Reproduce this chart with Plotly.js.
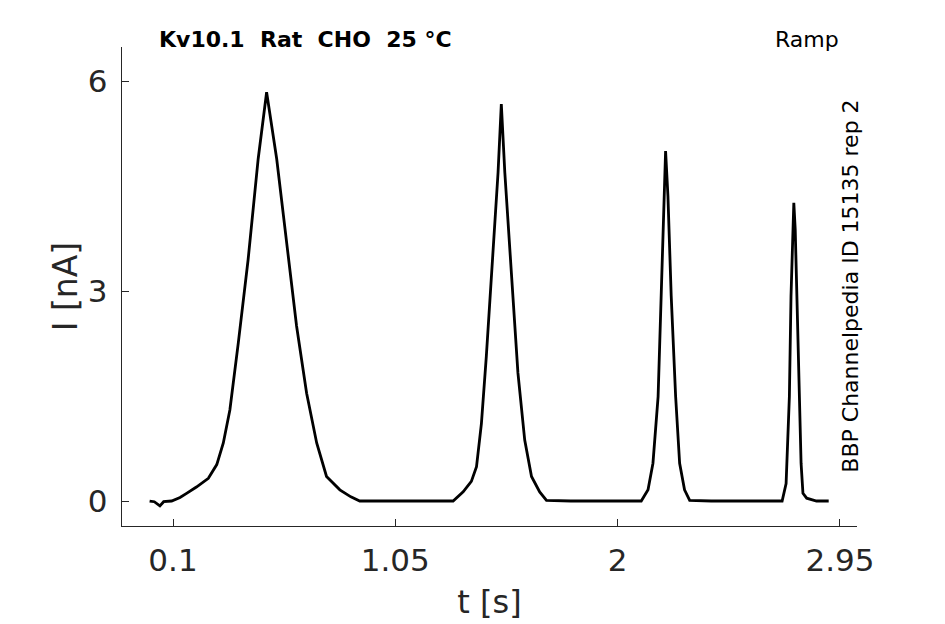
<!DOCTYPE html>
<html>
<head>
<meta charset="utf-8">
<script src="https://cdn.plot.ly/plotly-3.0.1.min.js"></script>
<style>
  html, body { margin: 0; padding: 0; background: #fff; }
  #plot { width: 945px; height: 624px; }
</style>
</head>
<body>
<div id="plot"></div>
<script>
// time [s] and current [nA]
const t_s = [0.0, 0.02, 0.044, 0.06, 0.094, 0.13, 0.158, 0.2, 0.251, 0.287, 0.315, 0.343, 0.379, 0.421, 0.464, 0.500,
  0.543, 0.586, 0.628, 0.671, 0.714, 0.756, 0.813, 0.86, 0.898, 1.0, 1.1, 1.2, 1.297, 1.340, 1.375, 1.397, 1.418,
  1.439, 1.468, 1.489, 1.503, 1.518, 1.546, 1.574, 1.603, 1.632, 1.667, 1.696, 1.8, 1.9, 2.0, 2.101, 2.130, 2.151,
  2.173, 2.187, 2.198, 2.205, 2.215, 2.229, 2.248, 2.265, 2.286, 2.308, 2.4, 2.5, 2.6, 2.703, 2.720, 2.734, 2.741,
  2.748, 2.753, 2.759, 2.766, 2.774, 2.784, 2.792, 2.808, 2.85, 2.902];
const current_nA = [0.0, -0.01, -0.07, -0.01, 0.0, 0.05, 0.11, 0.2, 0.325, 0.52, 0.83, 1.30, 2.26, 3.45, 4.89, 5.84,
  4.89, 3.69, 2.50, 1.54, 0.83, 0.35, 0.16, 0.06, 0.0, 0.0, 0.0, 0.0, 0.0, 0.13, 0.28, 0.49, 1.11,
  2.07, 3.50, 4.69, 5.67, 4.69, 3.26, 1.83, 0.87, 0.35, 0.13, 0.01, 0.0, 0.0, 0.0, 0.0, 0.16, 0.54,
  1.49, 2.93, 4.36, 5.00, 4.36, 2.93, 1.49, 0.54, 0.16, 0.01, 0.0, 0.0, 0.0, 0.0, 0.25, 1.49, 2.93,
  3.88, 4.26, 3.88, 2.93, 1.49, 0.54, 0.11, 0.04, 0.0, 0.0];

const x_ticks = [0.1, 1.05, 2, 2.95];
const x_tick_labels = ['0.1', '1.05', '2', '2.95'];
const y_ticks = [0, 3, 6];

const title_text = 'Kv10.1  Rat  CHO  25 °C';
const protocol_text = 'Ramp';
const source_text = 'BBP Channelpedia ID 15135 rep 2';

let font = 'DejaVu Sans, sans-serif';
let axis_color = '#262626';

let trace = {
    x: t_s,
    y: current_nA,
    mode: 'lines',
    line: { color: '#000000', width: 2.8 },
    type: 'scatter',
    hoverinfo: 'skip'
};

let layout = {
    width: 945,
    height: 624,
    margin: { l: 122, r: 88, t: 47, b: 98 },
    paper_bgcolor: '#ffffff',
    plot_bgcolor: '#ffffff',
    showlegend: false,
    font: { family: font, color: axis_color },
    xaxis: {
        range: [-0.118, 3.023],
        tickvals: x_ticks,
        ticktext: x_tick_labels,
        ticks: 'inside',
        ticklen: 7,
        tickwidth: 1,
        tickcolor: axis_color,
        showline: true,
        linecolor: axis_color,
        linewidth: 1.2,
        mirror: false,
        showgrid: false,
        zeroline: false,
        tickfont: { size: 31, color: axis_color },
        ticklabelstandoff: 7,
        title: { text: 't [s]', font: { size: 32, color: axis_color }, standoff: 13 }
    },
    yaxis: {
        range: [-0.357, 6.486],
        tickvals: y_ticks,
        ticks: 'inside',
        ticklen: 7,
        tickwidth: 1,
        tickcolor: axis_color,
        showline: true,
        linecolor: axis_color,
        linewidth: 1.2,
        mirror: false,
        showgrid: false,
        zeroline: false,
        tickfont: { size: 31, color: axis_color },
        ticklabelstandoff: 7,
        title: { text: 'I [nA]', font: { size: 33, color: axis_color }, standoff: 0 }
    },
    annotations: [
        {
            text: '<b>' + title_text + '</b>',
            xref: 'paper', yref: 'paper',
            x: 0.249, y: 1.015,
            xanchor: 'center', yanchor: 'middle',
            showarrow: false,
            font: { family: font, size: 22, color: '#000000' }
        },
        {
            text: protocol_text,
            xref: 'paper', yref: 'paper',
            x: 0.932, y: 1.015,
            xanchor: 'center', yanchor: 'middle',
            showarrow: false,
            font: { family: font, size: 22, color: '#000000' }
        },
        {
            text: source_text,
            xref: 'paper', yref: 'paper',
            x: 0.990, y: 0.501,
            xanchor: 'center', yanchor: 'middle',
            textangle: -90,
            showarrow: false,
            font: { family: font, size: 22, color: '#000000' }
        }
    ]
};

Plotly.newPlot('plot', [trace], layout, { staticPlot: true, displayModeBar: false });
</script>
</body>
</html>
